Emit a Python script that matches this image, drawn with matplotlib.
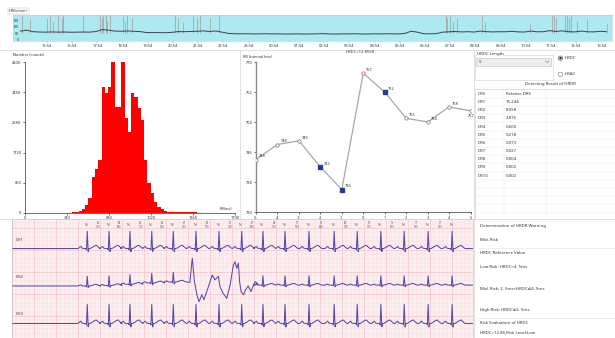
import numpy as np
import matplotlib
matplotlib.use("Agg")
import matplotlib.pyplot as plt
from matplotlib.patches import Rectangle, Circle

W, H = 615, 338
plt.rcParams['font.family'] = ['Noto Sans', 'DejaVu Sans']

# ------------------------------------------------------------------ data
# 24h heart-rate trend (hours after 14:30, 15-min samples)
hr_start_hour = 0.35
hr_values = [82, 90, 76, 73, 72, 74, 72, 73, 71, 72, 73, 72, 78, 96, 90, 82,
             80, 83, 80, 77, 68, 67, 68, 66, 70, 77, 76, 78, 80, 84, 78, 83,
             72, 60, 57, 56, 57, 55, 56, 57, 55, 56, 54, 55, 56, 54, 55, 56,
             58, 55, 54, 56, 55, 57, 55, 54, 56, 55, 57, 56, 55, 60, 80, 72,
             57, 56, 58, 72, 75, 78, 74, 76, 73, 82, 76, 74, 76, 75, 80, 74,
             73, 82, 75, 76, 86, 78, 84, 76, 74, 82, 75, 74, 80, 76]
spike_hours = [0.40, 0.73, 1.39, 1.52, 1.65, 1.85, 1.98, 2.05, 2.84, 3.50, 3.57,
               3.64, 3.74, 3.79, 3.90, 4.43, 4.50, 4.59, 4.76, 6.48, 6.61, 6.81,
               7.21, 7.34, 7.47, 7.87, 8.24, 17.22, 17.29, 17.39, 17.50, 17.66,
               18.65, 18.78, 20.57, 21.43, 21.52, 21.60, 21.96, 22.02, 22.10,
               22.18, 22.42, 22.82, 23.61]
spike_peaks = [230, 190, 200, 230, 180, 230, 200, 230, 220, 230, 200,
               230, 230, 180, 230, 220, 180, 230, 200, 230, 200, 170,
               220, 200, 230, 200, 230, 230, 200, 230, 180, 200,
               230, 170, 160, 230, 230, 200, 220, 230, 200,
               230, 180, 190, 160]
hr_tick_labels = ["15:54", "16:54", "17:54", "18:54", "19:54", "20:54", "21:54",
                  "22:54", "23:54", "00:54", "01:54", "02:54", "03:54", "04:54",
                  "05:54", "06:54", "07:54", "08:54", "09:54", "10:54", "11:54",
                  "12:54", "13:54"]
hr_first_tick_hour = 1.40
hr_yticks = [0, 60, 120, 180]

# RR interval histogram
rr_bin_left = [381.5, 408, 434.5, 461, 487.5, 514, 540.5, 567, 593.5, 620,
               646.5, 673, 699.5, 726, 752.5, 779, 805.5, 832, 858.5, 885,
               911.5, 938, 964.5, 991, 1017.5, 1044, 1070.5, 1097, 1123.5, 1150,
               1176.5, 1203, 1229.5, 1256, 1282.5, 1309, 1335.5, 1362, 1388.5, 1415]
rr_counts = [10, 20, 40, 95, 220, 410, 1030, 1250, 1500, 3600,
             3430, 3590, 4300, 3030, 3030, 4300, 2700, 2320, 3430, 3320,
             2980, 2650, 1500, 840, 550, 315, 170, 95, 50, 30,
             25, 20, 15, 12, 10, 8, 8, 6, 5, 4]
rr_bin_width = 26.5
hist_xticks = [0, 340, 680, 1020, 1360, 1700]
hist_yticks = [0, 860, 1720, 2580, 3440, 4300]

# HRDC (deceleration) curve
hrt_index = [-5, -4, -3, -2, -1, 0, 1, 2, 3, 4, 5]
hrt_rr = [744, 748, 749, 742, 736, 767, 762, 755, 754, 758, 757]
hrt_yticks = [730, 738, 746, 754, 762, 770]
hrdc_title = "HRDC=12.8558"

# detecting result table
dr_names = ["DR1", "DR2", "DR3", "DR4", "DR5", "DR6", "DR7", "DR8", "DR9", "DR10"]
dr_values = ["15.244", "8.058", "2.876", "0.600", "0.218", "0.073", "0.027",
             "0.004", "0.002", "0.002"]

# ECG strip (seconds, mm)
ecg_beats = [2.46, 3.17, 3.85, 4.56, 5.26, 6.00, 6.75, 7.49, 8.18, 8.90, 9.68,
             10.50, 11.25, 12.02, 12.78, 13.56, 14.34]
beat_shape_t = [-0.30, -0.25, -0.21, -0.17, -0.10, -0.05, -0.025, 0.0, 0.03,
                0.055, 0.09, 0.16, 0.24, 0.30, 0.36, 0.42]
beat_shape_v = [0, 0.08, 0.12, 0.02, 0, 0, -0.08, 1.0, -0.18,
                0, 0, 0.06, 0.16, 0.18, 0.08, 0]
ch2_pre_beats = [2.46, 3.17, 3.85, 4.56, 5.26]
ch2_pre_drift = [0.0, 0.1, 0.4, 0.7, 0.9]
ch2_post_beats = [8.18, 8.90, 9.68, 10.50, 11.25, 12.02, 12.78, 13.56, 14.34]
ch2_artifact_t = [5.70, 5.80, 5.88, 5.95, 6.03, 6.10, 6.19, 6.26, 6.35, 6.46,
                  6.53, 6.62, 6.73, 6.78, 6.87, 7.00, 7.11, 7.22, 7.27, 7.33,
                  7.38, 7.42, 7.47, 7.55, 7.62, 7.70, 7.79, 7.86, 7.93, 8.02]
ch2_artifact_v = [12.7, 12.6, 18.1, 12.8, 9.8, 8.25, 9.8, 8.7, 10.5, 12.8,
                  14.3, 13.2, 14.0, 11.7, 10.3, 9.0, 12.0, 16.6, 17.3, 15.8,
                  17.0, 12.8, 10.5, 9.8, 11.0, 11.8, 10.5, 11.8, 12.8, 12.2]

# ------------------------------------------------------------------ styles
fig = plt.figure(figsize=(W / 100, H / 100), dpi=100)
fig.patch.set_facecolor('white')


def px_axes(x0, y0, x1, y1, **kw):
    return fig.add_axes([x0 / W, 1 - y1 / H, (x1 - x0) / W, (y1 - y0) / H], **kw)


TXT = '#333333'
FS = 3.1

# ------------------------------------------------------------------ HR trend
ax = px_axes(12.7, 15, 612, 40.7)
ax.set_facecolor('#aee9f1')
hr_t = hr_start_hour + 0.25 * np.arange(len(hr_values))
ax.vlines(spike_hours, 60, spike_peaks, color='#9c9c9c', lw=0.5)
ax.plot(hr_t, hr_values, color='#404040', lw=0.7)
ax.set_xlim(0.04, 23.82)
ax.set_ylim(-8, 232)
ax.set_xticks(hr_first_tick_hour + np.arange(len(hr_tick_labels)))
ax.set_xticklabels(hr_tick_labels, fontsize=2.9, color=TXT)
ax.set_yticks(hr_yticks)
ax.set_yticklabels([str(v) for v in hr_yticks], fontsize=2.6, color=TXT)
ax.tick_params(axis='x', length=1.2, width=0.3, pad=1.2, color='#888888')
ax.tick_params(axis='y', length=0, pad=-4.5)
for s in ax.spines.values():
    s.set_color('#c8c8c8')
    s.set_linewidth(0.4)

# ------------------------------------------------------------------ histogram
ax = px_axes(25, 62.3, 235, 212.7)
ax.bar(rr_bin_left, rr_counts, width=rr_bin_width, align='edge',
       color='#ff0000', edgecolor='none')
ax.set_xlim(0, 1700)
ax.set_ylim(0, 4300)
ax.set_xticks(hist_xticks)
ax.set_xticklabels([str(v) for v in hist_xticks], fontsize=2.8, color=TXT)
ax.set_yticks(hist_yticks)
ax.set_yticklabels([str(v) for v in hist_yticks], fontsize=2.8, color=TXT)
ax.tick_params(length=1.5, width=0.4, pad=1.2)
for k in ('top', 'right'):
    ax.spines[k].set_visible(False)
for k in ('left', 'bottom'):
    ax.spines[k].set_linewidth(0.6)
    ax.spines[k].set_color('#555555')

# ------------------------------------------------------------------ HRDC curve
ax = px_axes(256, 62, 470.5, 212)
ax.plot(hrt_index, hrt_rr, color='#a8a8a8', lw=0.9, zorder=2)
filled = {-2, -1, 1}
for xi, yi in zip(hrt_index, hrt_rr):
    if xi in filled:
        ax.plot(xi, yi, 's', ms=2.2, mfc='#2b3a8c', mec='#2b3a8c', zorder=3)
    elif xi == 0:
        ax.plot(xi, yi, 'o', ms=2.4, mfc='white', mec='#c0504d', mew=0.5, zorder=3)
    else:
        ax.plot(xi, yi, 'o', ms=2.4, mfc='white', mec='#777777', mew=0.5, zorder=3)
    off = (2.2, 1.6) if xi != hrt_index[-1] else (-2.0, -4.5)
    ax.annotate(str(yi), (xi, yi), xytext=off, textcoords='offset points',
                fontsize=2.8, color=TXT)
ax.set_xlim(-5, 5)
ax.set_ylim(730, 770)
ax.set_xticks(hrt_index)
ax.set_xticklabels([str(v) for v in hrt_index], fontsize=2.8, color=TXT)
ax.set_yticks(hrt_yticks)
ax.set_yticklabels([str(v) for v in hrt_yticks], fontsize=2.8, color=TXT)
ax.tick_params(length=1.5, width=0.4, pad=1.2)
for k in ('top', 'right'):
    ax.spines[k].set_visible(False)
ax.spines['left'].set_color('#8c8c8c')
ax.spines['left'].set_linewidth(1.0)
ax.spines['bottom'].set_color('#555555')
ax.spines['bottom'].set_linewidth(0.6)

# ------------------------------------------------------------------ ECG strip
ax = px_axes(11.7, 219, 473, 338)
ax.set_facecolor('#fdeff1')
XMAX, YMAX = 15.02, 27.0
minor_dx = 0.1433
for i, xg in enumerate(np.arange(0, XMAX, minor_dx)):
    ax.axvline(xg, color='#f1bcc4' if i % 5 == 0 else '#f8d9dd',
               lw=0.45 if i % 5 == 0 else 0.3, zorder=0)
for i, yg in enumerate(np.arange(0, YMAX, 1.0)):
    ax.axhline(yg, color='#f1bcc4' if i % 5 == 0 else '#f8d9dd',
               lw=0.45 if i % 5 == 0 else 0.3, zorder=0)

shape_t = np.array(beat_shape_t)
shape_v = np.array(beat_shape_v)


def beats_trace(beats, base, amp, offsets=None):
    ts, vs = [], []
    for i, b in enumerate(beats):
        o = 0 if offsets is None else offsets[i]
        ts.extend(b + shape_t)
        vs.extend(base + o + amp * shape_v)
    return ts, vs


ECG_C = '#5a4aa6'
ECG_LW = 0.75
# CH1
t1, v1 = beats_trace(ecg_beats, 20.3, 3.9)
ax.plot([0] + t1 + [XMAX], [20.3] + v1 + [20.3], color=ECG_C, lw=ECG_LW)
# CH2
ta, va = beats_trace(ch2_pre_beats, 11.8, 2.2, ch2_pre_drift)
tb, vb = beats_trace(ch2_post_beats, 12.0, 2.1)
ax.plot([0] + ta + ch2_artifact_t + tb + [XMAX],
        [11.8] + va + ch2_artifact_v + vb + [12.0], color=ECG_C, lw=ECG_LW)
# CH3
t3, v3 = beats_trace(ecg_beats, 3.3, 4.3)
ax.plot([0] + t3 + [XMAX], [3.3] + v3 + [3.3], color=ECG_C, lw=ECG_LW)

for lbl, y in (("CH1", 22.0), ("CH2", 13.6), ("CH3", 5.3)):
    ax.text(0.12, y, lbl, fontsize=2.9, color='#333333', fontweight='bold')

rr = np.diff(ecg_beats)
for b in ecg_beats:
    ax.text(b - 0.05, 25.6, "N", fontsize=2.4, color='#555555', ha='center', va='center')
for b0, d in zip(ecg_beats[:-1], rr):
    ax.text(b0 + d / 2, 25.6, f"{int(round(60 / d))}\n{int(round(d * 1000))}",
            fontsize=1.9, color='#555555', ha='center', va='center', linespacing=0.9)

ax.set_xlim(0, XMAX)
ax.set_ylim(0, YMAX)
ax.set_xticks([])
ax.set_yticks([])
for s in ax.spines.values():
    s.set_color('#c0c0c0')
    s.set_linewidth(0.4)

# ------------------------------------------------------------------ overlay UI
ov = fig.add_axes([0, 0, 1, 1], zorder=10)
ov.set_xlim(0, W)
ov.set_ylim(H, 0)
ov.axis('off')
ov.patch.set_alpha(0)

LC = '#d4d4d4'
ov.plot([0, W], [49.5, 49.5], color=LC, lw=0.5)
ov.plot([240, 240], [49.5, 218.5], color=LC, lw=0.5)
ov.plot([473.5, 473.5], [49.5, H], color=LC, lw=0.5)
ov.plot([0, 473.5], [218.5, 218.5], color=LC, lw=0.5)

ov.text(9, 10.8, "HR(b/min)", fontsize=2.8, color=TXT, va='center',
        bbox=dict(boxstyle='square,pad=0.25', fc='white', ec='#bbbbbb', lw=0.3))
ov.text(13, 55.5, "Number (counts)", fontsize=2.8, color=TXT, va='center',
        fontweight='bold')
ov.text(232, 208.5, "RR(ms)", fontsize=2.8, color=TXT, va='center', ha='right',
        fontweight='bold')
ov.text(243, 57, "RR Interval (ms)", fontsize=2.8, color=TXT, va='center',
        fontweight='bold')
ov.text(360, 52.3, hrdc_title, fontsize=3.0, color=TXT, va='center', ha='center',
        fontweight='bold')

# right panel controls
ov.add_patch(Rectangle((474.8, 54.5), 78, 25.5, fc='none', ec='#d0d0d0', lw=0.4))
ov.text(477, 53.8, "HRDC Length", fontsize=FS, color=TXT, va='center',
        bbox=dict(boxstyle='square,pad=0.1', fc='white', ec='none'))
ov.add_patch(Rectangle((476, 58), 75, 8, fc='#eeeeee', ec='#bdbdbd', lw=0.4))
ov.text(478.5, 62, "5", fontsize=FS, color=TXT, va='center')
ov.plot([545.5, 547.3, 549.1], [60.8, 62.6, 60.8], color='#666666', lw=0.4)

ov.add_patch(Circle((560.5, 58.2), 2.2, fc='white', ec='#444444', lw=0.4))
ov.add_patch(Circle((560.5, 58.2), 1.2, fc='#222222', ec='none'))
ov.text(565, 58.2, "HRDC", fontsize=FS, color=TXT, va='center')
ov.add_patch(Circle((560.5, 74.3), 2.2, fc='white', ec='#777777', lw=0.4))
ov.text(565, 74.3, "HRAC", fontsize=FS, color=TXT, va='center')

ov.text(550, 84.5, "Detecting Result of HRDR", fontsize=FS, color=TXT,
        va='center', ha='center')
ov.add_patch(Rectangle((475, 88.5), 139.5, 130, fc='white', ec='#c8c8c8', lw=0.4))
row_h = 8.2
for i in range(16):
    yy = 89.6 + row_h * (i + 1)
    ov.plot([475.5, 614], [yy, yy], color='#ececec', lw=0.35)
for xx in (503.5, 545.5):
    ov.plot([xx, xx], [88.5, 218.5], color='#ececec', lw=0.35)
ov.text(477.5, 93.7, "DRS", fontsize=FS, color=TXT, va='center')
ov.text(506, 93.7, "Relative DRS", fontsize=FS, color=TXT, va='center')
for i, (n, v) in enumerate(zip(dr_names, dr_values)):
    yy = 93.7 + row_h * (i + 1)
    ov.text(477.5, yy, n, fontsize=FS, color=TXT, va='center')
    ov.text(506, yy, v, fontsize=FS, color=TXT, va='center')

# warning panel
for yy in (247.5, 318):
    ov.plot([478, 615], [yy, yy], color='#e0e0e0', lw=0.4)
warn = [("Determination of HRDR Warning", 226.5),
        ("Mid. Risk", 239.8),
        ("HRDC Reference Value", 253.5),
        ("Low Risk: HRDC>4. 5ms", 267.5),
        ("Mid. Risk: 2. 5ms<HRDC\u22644. 5ms", 288.5),
        ("High Risk: HRDC\u22642. 5ms", 310.5),
        ("Risk Evaluation of HRDC", 323.5),
        ("HRDC=12.86,Risk Level:Low", 332.5)]
for s, yy in warn:
    ov.text(480, yy, s, fontsize=FS, color=TXT, va='center')

fig.savefig("out.png", dpi=100, facecolor='white')
